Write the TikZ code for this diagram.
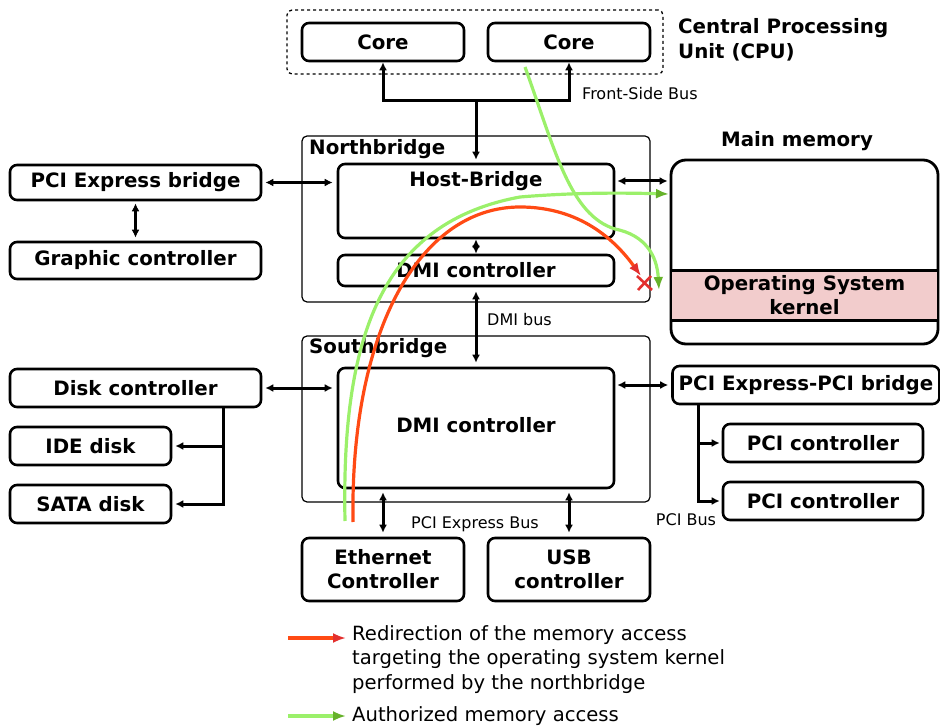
\documentclass[tikz,border=0pt]{standalone}
\usepackage{fontspec}
\setmainfont{DejaVu Sans}
\usetikzlibrary{arrows.meta,calc}

\definecolor{redline}{HTML}{FF4A14}
\definecolor{redtip}{HTML}{E3302E}
\definecolor{greenline}{HTML}{9BF06A}
\definecolor{greentip}{HTML}{66B22A}
\definecolor{kernelfill}{HTML}{F2CCCC}

\tikzset{
  box/.style={draw, line width=2.6pt, rounded corners=7pt, inner sep=0pt,
              font=\fontsize{19.8}{24}\selectfont\bfseries, align=center},
  bigbox/.style={draw, line width=1.2pt, rounded corners=5pt, inner sep=0pt},
  title/.style={font=\fontsize{19.8}{25}\selectfont\bfseries, inner sep=0pt},
  buslabel/.style={font=\fontsize{16}{19}\selectfont, inner sep=0pt},
  conn/.style={line width=3pt, {Latex[length=8pt,width=8pt]}-{Latex[length=8pt,width=8pt]}},
  connto/.style={line width=3pt, -{Latex[length=8pt,width=8pt]}},
  redpath/.style={draw=redline, line width=3.2pt, -{Latex[length=13pt,width=10pt,color=redtip]}},
  greenpath/.style={draw=greenline, line width=3.2pt, -{Latex[length=13pt,width=10pt,color=greentip]}},
  legendtext/.style={font=\fontsize{19.6}{24.5}\selectfont, align=left, inner sep=0pt},
}

\begin{document}
\begin{tikzpicture}[x=1pt,y=-1pt]
\useasboundingbox (0,0) rectangle (940,727);

% ---- CPU ----
\node[bigbox, dashed, line width=1.3pt, minimum width=376pt, minimum height=64pt] (cpu) at (475,42) {};
\node[box, minimum width=162pt, minimum height=38pt] (core1) at (383,42) {Core};
\node[box, minimum width=162pt, minimum height=38pt] (core2) at (569,42) {Core};
\node[title, anchor=west, align=left] (cputitle) at (678,39.5) {Central Processing\\Unit (CPU)};

% ---- Northbridge ----
\node[bigbox, minimum width=348pt, minimum height=166pt] (nb) at (476,219) {};
\node[title, anchor=west] (nbtitle) at (309,149) {Northbridge};
\node[box, minimum width=276pt, minimum height=74pt] (hb) at (476,201) {};
\node[title] (hbtitle) at (476,181) {Host-Bridge};
\node[box, minimum width=276pt, minimum height=31pt] (nbdmi) at (476,270.5) {DMI controller};

% ---- Main memory ----
\node[title] (memtitle) at (797,141) {Main memory};
\node[box, line width=2.8pt, rounded corners=15pt, minimum width=267pt, minimum height=184pt] (mem) at (804.5,252) {};
\node[fill=kernelfill, inner sep=0pt, minimum width=265pt, minimum height=49pt,
      font=\fontsize{19.8}{24}\selectfont\bfseries, align=center] (kernel) at (804.5,295.5) {Operating System\\kernel};
\draw[line width=2.8pt] (kernel.north west) -- (kernel.north east);
\draw[line width=2.8pt] (kernel.south west) -- (kernel.south east);

% ---- left side of the northbridge ----
\node[box, minimum width=251pt, minimum height=35pt] (pcieb) at (135.5,182.5) {PCI Express bridge};
\node[box, minimum width=251pt, minimum height=37pt] (gfx) at (135.5,260.5) {Graphic controller};

% ---- Southbridge ----
\node[bigbox, minimum width=348pt, minimum height=166pt] (sb) at (476,419) {};
\node[title, anchor=west] (sbtitle) at (309,348) {Southbridge};
\node[box, minimum width=276pt, minimum height=120pt] (sbdmi) at (476,428) {};
\node[title] (sbdmititle) at (476,425) {DMI controller};

\node[box, minimum width=251pt, minimum height=38pt] (disk) at (135.5,388) {Disk controller};
\node[box, minimum width=161pt, minimum height=38pt] (ide) at (90.5,446) {IDE disk};
\node[box, minimum width=161pt, minimum height=38pt] (sata) at (90.5,504) {SATA disk};

\node[box, minimum width=267pt, minimum height=38pt] (pcipb) at (806,385) {PCI Express-PCI bridge};
\node[box, minimum width=200pt, minimum height=38pt] (pci1) at (823,443) {PCI controller};
\node[box, minimum width=200pt, minimum height=38pt] (pci2) at (823,501) {PCI controller};

\node[box, minimum width=162pt, minimum height=63pt] (eth) at (383,569.5) {Ethernet\\Controller};
\node[box, minimum width=162pt, minimum height=63pt] (usb) at (569,569.5) {USB\\controller};

% ---- bus labels ----
\node[buslabel, anchor=west] (fsblabel) at (582,94) {Front-Side Bus};
\node[buslabel, anchor=west] (dmilabel) at (487,320) {DMI bus};
\node[buslabel] (pcielabel) at (475,524) {PCI Express Bus};
\node[buslabel] (pcilabel) at (686,520) {PCI Bus};

% ---- connectors ----
\coordinate (fsb) at (476,101);
\draw[conn] (core1.south) |- (fsb) -| (core2.south);
\draw[connto, shorten >=3pt] (fsb) -- (hb.north);
\draw[conn] (hb.south) -- (nbdmi.north);

\draw[conn, shorten <=3pt, shorten >=4pt] (pcieb.east) -- (pcieb.east -| hb.west);
\draw[conn, shorten <=2pt, shorten >=3pt] (pcieb.south) -- (gfx.north);

\coordinate (hbr) at ([yshift=20pt]hb.east);
\draw[conn, shorten <=2pt, shorten >=2pt] (hbr) -- (hbr -| mem.west);

\draw[conn, shorten <=4pt, shorten >=4pt] (nbdmi.south) -- (sbdmi.north);

\draw[conn, shorten <=3pt, shorten >=4pt] (disk.east) -- (disk.east -| sbdmi.west);
\draw[conn, shorten <=2pt, shorten >=3pt] (pcipb.west -| sbdmi.east) -- (pcipb.west);

\draw[conn, shorten <=3pt, shorten >=4pt] (sbdmi.south -| eth.north) -- (eth.north);
\draw[conn, shorten <=3pt, shorten >=4pt] (sbdmi.south -| usb.north) -- (usb.north);

\coordinate (dtrunk) at (223,407);
\draw[connto, shorten >=3pt] (dtrunk) |- (ide.east);
\draw[connto, shorten >=3pt] (dtrunk) |- (sata.east);

\coordinate (ptrunk) at (698,404);
\draw[connto, shorten >=2pt] (ptrunk) |- (pci1.west);
\draw[connto, shorten >=2pt] (ptrunk) |- (pci2.west);

% ---- memory access paths ----
\coordinate (redstart) at (353,522);
\coordinate (redtop) at (520,207);
\coordinate (redend) at (641,276);
\draw[redpath] (redstart) .. controls (350,330) and (420,207) .. (redtop)
                          .. controls (580,207) and (615,240) .. (redend);
\draw[redtip, line width=2.6pt] (637,276) -- (652,290) (638,290) -- (651,276);

\coordinate (g1start) at (345,521);
\coordinate (g1mid) at (520,197);
\coordinate (g1end) at (669,194);
\draw[greenpath] (g1start) .. controls (341,330) and (385,222) .. (g1mid)
                           .. controls (580,192) and (630,193) .. (g1end);

\coordinate (g2start) at (525,67);
\coordinate (g2mid) at (615,229);
\coordinate (g2end) at (659,290);
\draw[greenpath] (g2start) .. controls (555,150) and (570,215) .. (g2mid)
                           .. controls (645,235) and (657,255) .. (g2end);

% ---- legend ----
\coordinate (lr1) at (288,638);
\coordinate (lr2) at (346,638);
\draw[redpath] (lr1) -- (lr2);
\node[legendtext, anchor=north west] (legred) at (352,625)
  {Redirection of the memory access\\targeting the operating system kernel\\performed by the northbridge};
\coordinate (lg1) at (288,716);
\coordinate (lg2) at (346,716);
\draw[greenpath] (lg1) -- (lg2);
\node[legendtext, anchor=west] (leggreen) at (352,716) {Authorized memory access};
\end{tikzpicture}
\end{document}
